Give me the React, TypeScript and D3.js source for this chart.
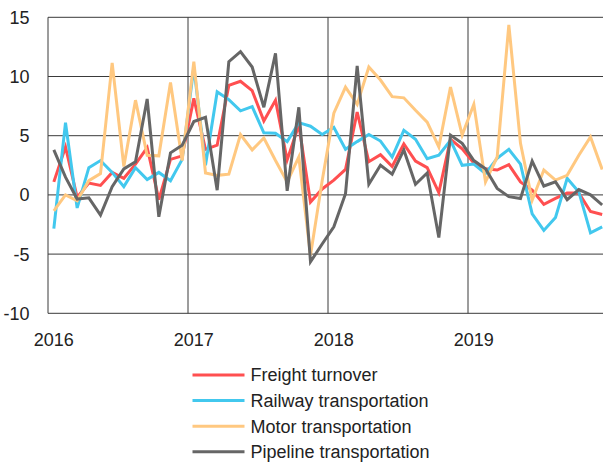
import React, { useEffect, useRef } from 'react';
import * as d3 from 'd3';

// monthly values, Jan 2016 .. Dec 2019
const years = ['2016', '2017', '2018', '2019'];
const yTicks = [-10, -5, 0, 5, 10, 15];

const freight = [
  1.1, 4.05, -0.2, 1.0, 0.8, 1.9, 1.4, 2.6, 4.0, -0.4, 3.0, 3.3,
  8.15, 3.85, 4.2, 9.25, 9.6, 8.8, 6.25, 8.0, 2.95, 5.9, -0.6, 0.5,
  1.25, 2.15, 7.0, 2.8, 3.4, 2.4, 4.3, 2.85, 2.3, 0.2, 4.7, 3.9,
  2.7, 2.2, 2.1, 2.55, 1.1, 0.4, -0.8, -0.3, 0.15, 0.15, -1.4, -1.65,
];
const railway = [
  -2.85, 6.1, -1.1, 2.3, 2.9, 1.9, 0.7, 2.3, 1.3, 1.9, 1.2, 3.0,
  10.8, 2.5, 8.7, 8.05, 7.1, 7.45, 5.25, 5.2, 4.5, 6.1, 5.8, 5.1,
  5.7, 3.85, 4.5, 5.1, 4.55, 3.2, 5.45, 4.7, 3.05, 3.35, 4.6, 2.5,
  2.6, 1.8, 3.1, 3.85, 2.6, -1.6, -3.0, -1.9, 1.4, 0.25, -3.2, -2.7,
];
const motor = [
  -1.35, 0.0, -0.5, 1.2, 1.8, 11.15, 2.4, 8.0, 3.35, 3.3, 9.5, 2.9,
  11.25, 1.85, 1.65, 1.75, 5.1, 3.8, 4.8, 2.9, 1.1, 3.2, -5.1, 1.2,
  6.9, 9.1, 7.65, 10.8, 9.7, 8.3, 8.2, 7.15, 6.15, 4.05, 9.1, 5.05,
  7.65, 1.1, 3.2, 14.35, 4.35, -0.45, 2.1, 1.25, 1.65, 3.35, 4.9, 2.15,
];
const pipeline = [
  3.8, 1.5, -0.35, -0.25, -1.7, 0.7, 2.2, 2.8, 8.1, -1.85, 3.55, 4.2,
  6.2, 6.55, 0.4, 11.25, 12.1, 10.8, 7.4, 11.95, 0.35, 7.4, -5.65, -4.15,
  -2.7, 0.1, 10.9, 0.9, 2.5, 1.75, 3.8, 0.9, 1.85, -3.6, 5.05, 4.35,
  2.9, 2.2, 0.55, -0.15, -0.3, 2.85, 0.75, 1.1, -0.4, 0.45, 0, -0.85,
];

const seriesNames = ['Freight turnover', 'Railway transportation', 'Motor transportation', 'Pipeline transportation'];
const seriesColors = ['#ff4f50', '#42c8ee', '#ffc880', '#666666'];
const seriesValues = [freight, railway, motor, pipeline];

const font = '"Liberation Sans", Arial, sans-serif';

export default function App() {
  const ref = useRef<SVGSVGElement>(null);

  useEffect(() => {
    const W = 603;
    const H = 464;
    const svg = d3.select(ref.current);
    svg.selectAll('*').remove();

    const left = 48;
    const right = 608;
    const top = 17.3;
    const bottom = 313.3;

    const x = d3.scaleLinear().domain([0, 48]).range([left, right]);
    const y = d3.scaleLinear().domain([-10, 15]).range([bottom, top]);

    const g = svg.append('g');

    // horizontal grid
    g.selectAll('.hgrid')
      .data(yTicks)
      .enter()
      .append('line')
      .attr('x1', left)
      .attr('x2', W)
      .attr('y1', d => y(d))
      .attr('y2', d => y(d))
      .attr('stroke', '#3a3a3a')
      .attr('stroke-width', 1);

    // vertical year lines
    g.selectAll('.vgrid')
      .data(years)
      .enter()
      .append('line')
      .attr('x1', (d, i) => x(i * 12))
      .attr('x2', (d, i) => x(i * 12))
      .attr('y1', top)
      .attr('y2', bottom)
      .attr('stroke', '#3a3a3a')
      .attr('stroke-width', 1);

    // y labels
    g.selectAll('.ylab')
      .data(yTicks)
      .enter()
      .append('text')
      .attr('x', 29.5)
      .attr('y', d => y(d))
      .attr('dy', '0.36em')
      .attr('text-anchor', 'end')
      .style('font-family', font)
      .style('font-size', '18px')
      .style('fill', '#222')
      .text(d => String(d));

    // x labels
    g.selectAll('.xlab')
      .data(years)
      .enter()
      .append('text')
      .attr('x', (d, i) => x(i * 12 + 0.5))
      .attr('y', 346)
      .attr('text-anchor', 'middle')
      .style('font-family', font)
      .style('font-size', '18px')
      .style('fill', '#222')
      .text(d => d);

    const line = d3.line<number>()
      .x((d, i) => x(i + 0.5))
      .y(d => y(d));

    seriesValues.forEach((vals, k) => {
      g.append('path')
        .datum(vals)
        .attr('d', line)
        .attr('fill', 'none')
        .attr('stroke', seriesColors[k])
        .attr('stroke-width', 3)
        .attr('stroke-linejoin', 'miter')
        .attr('stroke-miterlimit', 4);
    });

    // legend
    const lg = svg.append('g').attr('transform', 'translate(192.5, 375)');
    seriesNames.forEach((name, k) => {
      const row = lg.append('g').attr('transform', `translate(0, ${k * 25.6})`);
      row.append('line')
        .attr('x1', 0)
        .attr('x2', 52)
        .attr('y1', 0)
        .attr('y2', 0)
        .attr('stroke', seriesColors[k])
        .attr('stroke-width', 3);
      row.append('text')
        .attr('x', 58)
        .attr('y', 0)
        .attr('dy', '0.36em')
        .style('font-family', font)
        .style('font-size', '18px')
        .style('fill', '#222')
        .text(name);
    });

    svg.attr('width', W).attr('height', H);
  }, []);

  return (
    <svg
      ref={ref}
      width={603}
      height={464}
      style={{ position: 'absolute', left: 0, top: 0, background: '#fff' }}
    />
  );
}
